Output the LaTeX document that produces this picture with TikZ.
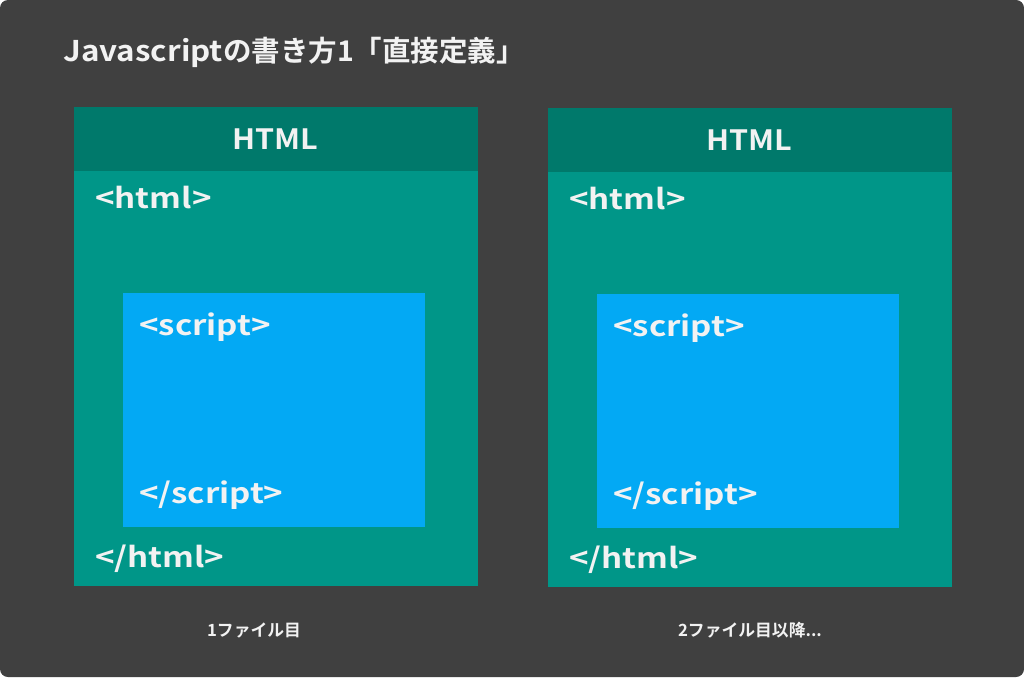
\documentclass[tikz,border=0pt]{standalone}
\usepackage{fontspec}
\newfontfamily\jp{Noto Sans CJK JP Bold}
\newfontfamily\jpwide{Noto Sans CJK JP Bold}[FakeStretch=1.18]
\newfontfamily\jpmid{Noto Sans CJK JP Bold}[FakeStretch=1.09]
\newfontfamily\jptitle{Noto Sans CJK JP Bold}[FakeStretch=1.1]
\definecolor{bgdark}{HTML}{404040}
\definecolor{headteal}{HTML}{00796B}
\definecolor{bodyteal}{HTML}{009688}
\definecolor{innerblue}{HTML}{03A9F4}
\definecolor{txt}{HTML}{F2F2F2}
\begin{document}
\begin{tikzpicture}[x=1pt,y=-1pt,
  panel/.style={fill=bodyteal, draw=none, anchor=north west, inner sep=0pt,
    minimum width=404pt, minimum height=479pt},
  header/.style={fill=headteal, draw=none, anchor=north west, inner sep=0pt,
    minimum width=404pt, minimum height=64pt},
  inner/.style={fill=innerblue, draw=none, anchor=north west, inner sep=0pt,
    minimum width=302pt, minimum height=234pt},
  headtext/.style={text=txt, font=\jpmid\fontsize{28}{28}\selectfont, inner sep=0pt, anchor=base},
  tag/.style={text=txt, font=\jpwide\fontsize{28}{28}\selectfont, inner sep=0pt, anchor=base west},
  titletext/.style={text=txt, font=\jp\fontsize{28.5}{28.5}\selectfont, inner sep=0pt, anchor=base west},
  caption/.style={text=txt, font=\jp\fontsize{16.8}{16.8}\selectfont, inner sep=0pt, anchor=base}
]
\useasboundingbox (0,0) rectangle (1024,677);
\fill[white] (0,0) rectangle (1024,677);
\fill[bgdark, rounded corners=8pt] (0,0) rectangle (1024,677);

\node[titletext] (title) at (63,62) {{\jptitle Javascript}の書き方1「直接定義」};

% left panel
\node[panel] (lbody) at (74,107) {};
\node[header] (lhead) at (74,107) {};
\node[inner] (linner) at (123,293) {};
\node[headtext] (lhtml) at (275,149) {HTML};
\node[tag] (lopen) at (95,208) {<html>};
\node[tag] (lsopen) at (139,335) {<script>};
\node[tag] (lsclose) at (139,503) {</script>};
\node[tag] (lclose) at (95,567) {</html>};
\node[caption] (lcap) at (254,636) {1ファイル目};

% right panel
\node[panel] (rbody) at (548,108) {};
\node[header] (rhead) at (548,108) {};
\node[inner] (rinner) at (597,294) {};
\node[headtext] (rhtml) at (749,150) {HTML};
\node[tag] (ropen) at (569,209) {<html>};
\node[tag] (rsopen) at (613,336) {<script>};
\node[tag] (rsclose) at (613,504) {</script>};
\node[tag] (rclose) at (569,568) {</html>};
\node[caption] (rcap) at (750,636) {2ファイル目以降...};
\end{tikzpicture}
\end{document}
